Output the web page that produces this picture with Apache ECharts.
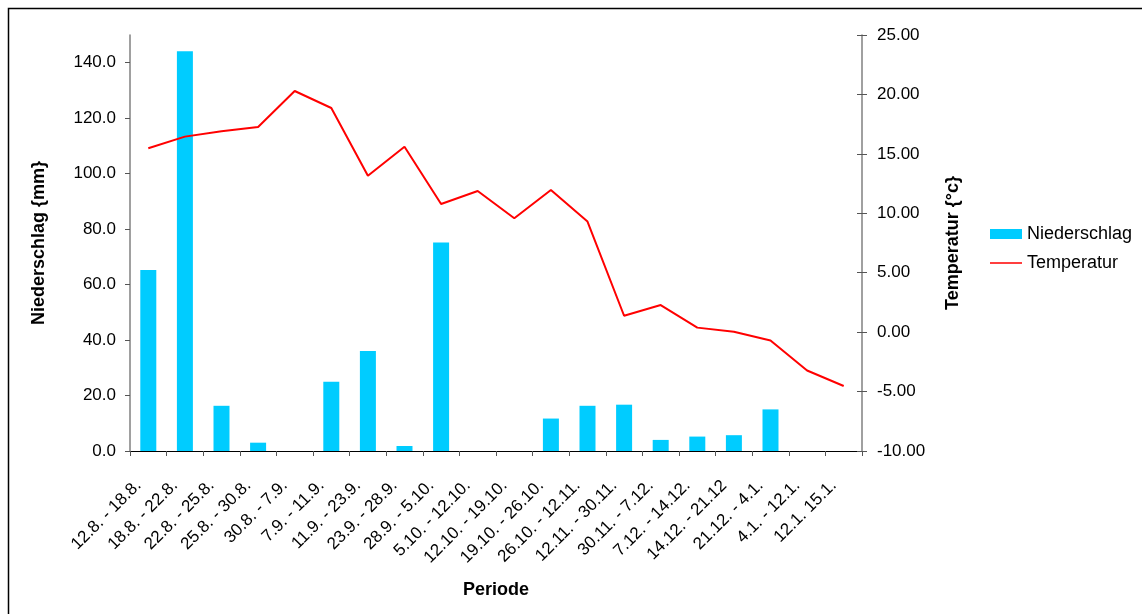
<!DOCTYPE html>
<html>
<head>
<meta charset="utf-8">
<script src="https://cdn.jsdelivr.net/npm/echarts@6/dist/echarts.min.js"></script>
<style>
html,body{margin:0;padding:0;background:#fff;}
#chart{width:1142px;height:614px;}
</style>
</head>
<body>
<div id="chart"></div>
<script>
const categories = ["12.8. - 18.8.","18.8. - 22.8.","22.8. - 25.8.","25.8. - 30.8.","30.8. - 7.9.","7.9. - 11.9.","11.9. - 23.9.","23.9. - 28.9.","28.9. - 5.10.","5.10. - 12.10.","12.10. - 19.10.","19.10. - 26.10.","26.10. - 12.11.","12.11. - 30.11.","30.11. - 7.12.","7.12. - 14.12.","14.12. - 21.12","21.12. - 4.1.","4.1. - 12.1.","12.1. 15.1."];
const niederschlag = [65.3,144.1,16.3,3.0,0,25.0,36.1,1.8,75.2,0,0,11.7,16.3,16.7,4.0,5.2,5.7,15.0,0,0];
const temperatur = [15.47,16.45,16.9,17.26,20.29,18.86,13.16,15.6,10.78,11.87,9.58,11.96,9.3,1.38,2.28,0.38,0.04,-0.71,-3.23,-4.53];
const leftTicks = [0,20,40,60,80,100,120,140];

const font = '"Liberation Sans", Arial, sans-serif';
const chart = echarts.init(document.getElementById('chart'));
chart.setOption({
  animation:false,
  textStyle:{fontFamily:font},
  graphic:[{type:'rect',shape:{x:8.5,y:8.5,width:1200,height:700},style:{fill:'none',stroke:'#000',lineWidth:1.5},silent:true}],
  grid:{left:130,right:280,top:35,bottom:163,containLabel:false},
  legend:{
    orient:'vertical',left:985,top:220,itemWidth:32,itemHeight:10,itemGap:11,
    textStyle:{fontFamily:font,fontSize:18,color:'#000',lineHeight:18},
    data:[
      {name:'Niederschlag',icon:'rect'},
      {name:'Temperatur',icon:'path://M0,0h0.01v0.01h-0.01z M0,4.2h32v1.6h-32z M31.99,9.99h0.01v0.01h-0.01z'}
    ]
  },
  xAxis:{
    type:'category',data:categories,boundaryGap:true,
    name:'Periode',nameLocation:'middle',nameGap:130,
    nameTextStyle:{fontFamily:font,fontSize:18,fontWeight:'bold',color:'#000'},
    axisLine:{lineStyle:{color:'#000',width:1}},
    axisTick:{show:true,alignWithLabel:false,length:5,lineStyle:{color:'#555'}},
    axisLabel:{rotate:45,interval:0,fontSize:17,color:'#000',margin:22,padding:[0,14,0,0],fontFamily:font}
  },
  yAxis:[
    {
      type:'value',position:'left',min:0,max:150,interval:20,
      name:'Niederschlag {mm}',nameLocation:'middle',nameGap:82,
      nameTextStyle:{fontFamily:font,fontSize:18,fontWeight:'bold',color:'#000'},
      axisLine:{show:true,lineStyle:{color:'#808080',width:1.5}},
      axisTick:{show:true,length:5,lineStyle:{color:'#555'},customValues:leftTicks},
      axisLabel:{fontSize:17,color:'#000',margin:14,fontFamily:font,customValues:leftTicks,formatter:v=>v.toFixed(1)},
      splitLine:{show:false}
    },
    {
      type:'value',position:'right',min:-10,max:25,interval:5,
      name:'Temperatur {°c}',nameLocation:'middle',nameGap:82,
      nameTextStyle:{fontFamily:font,fontSize:18,fontWeight:'bold',color:'#000'},
      axisLine:{show:true,lineStyle:{color:'#808080',width:1.5}},
      axisTick:{show:true,length:5,lineStyle:{color:'#555'}},
      axisLabel:{fontSize:17,color:'#000',margin:15,fontFamily:font,formatter:v=>v.toFixed(2)},
      splitLine:{show:false}
    },
    {
      type:'value',position:'right',min:-10,max:25,interval:5,
      axisLine:{show:false},
      axisTick:{show:true,inside:true,length:5,lineStyle:{color:'#555'}},
      axisLabel:{show:false},splitLine:{show:false}
    }
  ],
  series:[
    {name:'Niederschlag',type:'bar',yAxisIndex:0,data:niederschlag,barWidth:16,
     itemStyle:{color:'#00CCFF'}},
    {name:'Temperatur',type:'line',yAxisIndex:1,data:temperatur,symbol:'none',
     lineStyle:{color:'#FF0000',width:2},itemStyle:{color:'#FF0000'}}
  ]
});
</script>
</body>
</html>
